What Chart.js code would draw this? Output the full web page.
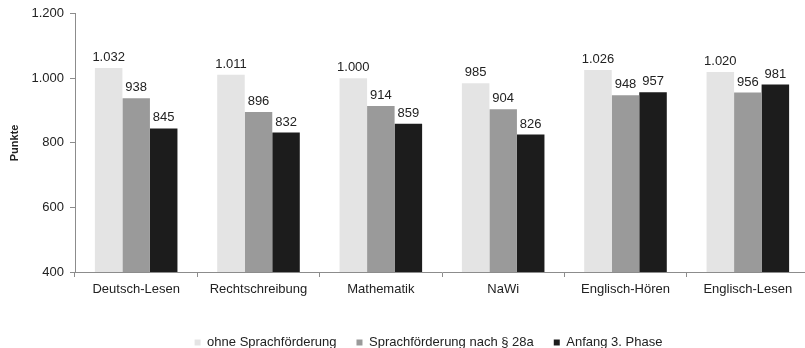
<!DOCTYPE html>
<html lang="de">
<head>
<meta charset="utf-8">
<title>Punkte nach Sprachförderung</title>
<script src="https://cdn.jsdelivr.net/npm/chart.js@4/dist/chart.umd.min.js"></script>
<style>
  html, body { margin: 0; padding: 0; background: #fff; overflow: hidden; }
  #wrap { width: 809px; height: 359px; }
</style>
</head>
<body>
<div id="wrap"><canvas id="chart" width="809" height="359"></canvas></div>
<script>
// Kompetenzbereiche
const categories = ['Deutsch-Lesen', 'Rechtschreibung', 'Mathematik', 'NaWi', 'Englisch-Hören', 'Englisch-Lesen'];

// Mittlere Punktwerte je Gruppe
const seriesNames = ['ohne Sprachförderung', 'Sprachförderung nach § 28a', 'Anfang 3. Phase'];
const ohneFoerderung = [1032, 1011, 1000, 985, 1026, 1020];
const foerderung28a = [938, 896, 914, 904, 948, 956];
const anfangPhase3 = [845, 832, 859, 826, 957, 981];

// Achse
const yMin = 400;
const yMax = 1200;
const yStep = 200;

const FONT = '"Liberation Sans", Arial, sans-serif';

// Tausenderpunkt wie im Deutschen
function formatDe(v) {
  const s = String(Math.round(v));
  return s.replace(/\B(?=(\d{3})+(?!\d))/g, '.');
}

// Werte über die Säulen schreiben
const valueLabels = {
  id: 'valueLabels',
  afterDatasetsDraw(chart) {
    const ctx = chart.ctx;
    ctx.save();
    ctx.font = '13px ' + FONT;
    ctx.fillStyle = '#222';
    ctx.textAlign = 'center';
    ctx.textBaseline = 'bottom';
    chart.data.datasets.forEach((ds, i) => {
      const meta = chart.getDatasetMeta(i);
      meta.data.forEach((bar, j) => {
        ctx.fillText(formatDe(ds.data[j]), bar.x, bar.y - 4);
      });
    });
    ctx.restore();
  }
};

// Legende etwas nach rechts rücken
const legendShift = {
  id: 'legendShift',
  afterLayout(chart) {
    const lg = chart.legend;
    if (!lg) return;
    const dx = 24;
    lg.left += dx;
    lg.right += dx;
    (lg.legendHitBoxes || []).forEach(h => { h.left += dx; });
  }
};

new Chart(document.getElementById('chart'), {
  type: 'bar',
  data: {
    labels: categories,
    datasets: [
      { label: seriesNames[0], data: ohneFoerderung, backgroundColor: '#e4e4e4' },
      { label: seriesNames[1], data: foerderung28a, backgroundColor: '#9a9a9a' },
      { label: seriesNames[2], data: anfangPhase3, backgroundColor: '#1c1c1c' }
    ]
  },
  options: {
    responsive: false,
    animation: false,
    devicePixelRatio: 1,
    layout: { padding: { top: 12, left: 0, right: 0, bottom: 0 } },
    datasets: {
      bar: { barPercentage: 1.0, categoryPercentage: 0.675, borderWidth: 0 }
    },
    scales: {
      x: {
        grid: {
          offset: true,
          drawOnChartArea: false,
          drawTicks: true,
          tickLength: 5,
          color: '#8c8c8c'
        },
        border: { color: '#8c8c8c', width: 1 },
        ticks: {
          color: '#222',
          font: { family: FONT, size: 13 },
          padding: 5,
          maxRotation: 0
        },
        afterFit(scale) { scale.height = 44; }
      },
      y: {
        min: yMin,
        max: yMax,
        grid: {
          drawOnChartArea: false,
          drawTicks: true,
          tickLength: 5,
          color: '#8c8c8c'
        },
        border: { color: '#8c8c8c', width: 1 },
        ticks: {
          stepSize: yStep,
          color: '#222',
          font: { family: FONT, size: 13 },
          padding: 6,
          callback: (v) => formatDe(v)
        },
        title: {
          display: true,
          text: 'Punkte',
          color: '#222',
          font: { family: FONT, size: 11, weight: 'bold' },
          padding: { top: 8, bottom: 0 }
        },
        afterFit(scale) { scale.width = 75; }
      }
    },
    plugins: {
      legend: {
        position: 'bottom',
        labels: {
          boxWidth: 6,
          boxHeight: 6,
          padding: 20,
          color: '#222',
          font: { family: FONT, size: 13 }
        }
      },
      tooltip: { enabled: false },
      title: { display: false }
    }
  },
  plugins: [valueLabels, legendShift]
});
</script>
</body>
</html>
